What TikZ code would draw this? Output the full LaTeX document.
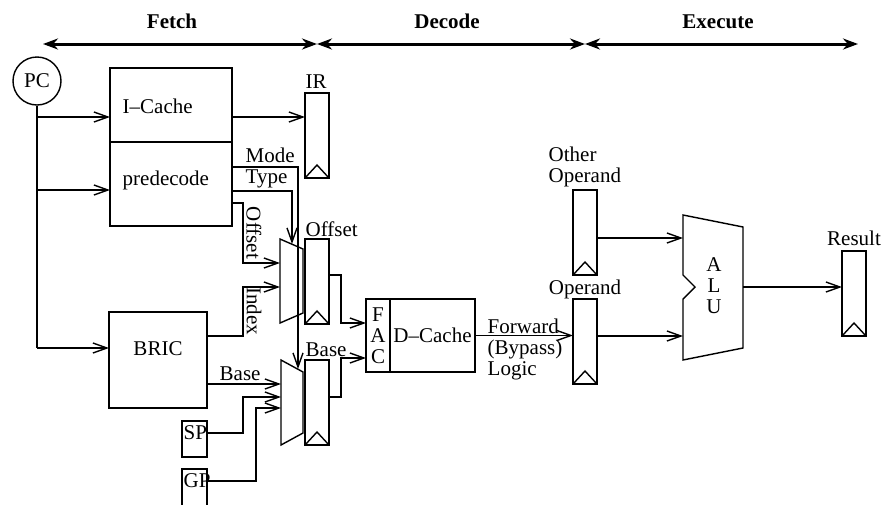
\documentclass[tikz,border=0pt]{standalone}
\usepackage{fontspec}
\setmainfont{Liberation Serif}
\usetikzlibrary{arrows.meta}

\tikzset{
  unit/.style={draw, rectangle, inner sep=0pt, outer sep=0pt, anchor=north west},
  reg/.style={unit, minimum width=24pt, minimum height=85pt,
    path picture={\draw (path picture bounding box.south west)
      -- ([yshift=13pt]path picture bounding box.south)
      -- (path picture bounding box.south east);}},
  wire/.style={-{Straight Barb[length=14pt,width=10pt]}},
  phase/.style={line width=3pt, {Stealth[length=15pt,width=11pt]}-{Stealth[length=15pt,width=11pt]}},
  lbl/.style={anchor=base west, inner sep=0pt},
}

\begin{document}
\begin{tikzpicture}[x=1pt, y=-1pt, line width=1.4pt, font=\fontsize{21}{21}\selectfont]
    \useasboundingbox (0,0) rectangle (883,504);

    % Pipeline stages along the top
    \coordinate (s0) at (43,44);
    \coordinate (s1) at (317,44);
    \coordinate (s2) at (585,44);
    \coordinate (s3) at (858,44);
    \draw[phase] (s0) -- (s1);
    \draw[phase] (s1) -- (s2);
    \draw[phase] (s2) -- (s3);
    \node[anchor=base] (fetch) at (172,28) {\bfseries Fetch};
    \node[anchor=base] (decode) at (447,28) {\bfseries Decode};
    \node[anchor=base] (execute) at (718,28) {\bfseries Execute};

    % Fetch units
    \node[draw, circle, minimum size=48pt, inner sep=0pt] (pc) at (37,81) {PC};
    \node[unit, minimum width=122pt, minimum height=74pt] (icache) at (110,68) {};
    \node[unit, minimum width=122pt, minimum height=84pt] (pred) at (110,142) {};
    \node[lbl] (icache-t) at (122,113) {I–Cache};
    \node[lbl] (pred-t) at (122,185) {predecode};
    \node[unit, minimum width=98pt, minimum height=96pt] (bric) at (109,312) {};
    \node (bric-t) at ([yshift=11pt]bric.center) {BRIC};
    \node[unit, minimum width=25pt, minimum height=36pt] (sp) at (182,421) {};
    \node[unit, minimum width=25pt, minimum height=40pt] (gp) at (182,469) {};
    \node[lbl] (sp-t) at (183,439) {SP};
    \node[lbl] (gp-t) at (183,487) {GP};

    % Registers
    \node[reg] (ir) at (305,93) {};
    \node[reg] (oreg) at (305,239) {};
    \node[reg] (breg) at (305,360) {};
    \node[reg] (other) at (573,190) {};
    \node[reg] (opnd) at (573,299) {};
    \node[reg] (res) at (842,251) {};
    \node[lbl] (ir-l) at ([yshift=5pt]ir.north west) {IR};
    \node[lbl] (oreg-l) at ([yshift=3pt]oreg.north west) {Offset};
    \node[lbl] (breg-l) at ([yshift=4pt]breg.north west) {Base};
    \node[lbl] (other-l1) at (548,161) {Other};
    \node[lbl] (other-l2) at (548,182) {Operand};
    \node[anchor=base, inner sep=0pt] (opnd-l) at ([yshift=5pt]opnd.north) {Operand};
    \node[anchor=base, inner sep=0pt] (res-l) at ([yshift=6pt]res.north) {Result};

    % Muxes
    \coordinate (omux) at (280,239);
    \draw (omux) -- ++(23,10) -- ++(0,64) -- ++(-23,10) -- cycle;
    \coordinate (bmux) at (281,360);
    \draw (bmux) -- ++(22,12) -- ++(0,61) -- ++(-22,12) -- cycle;

    % Address calculation and data cache
    \node[unit, minimum width=24pt, minimum height=73pt, align=center] (fac) at (366,299) {F\\A\\C};
    \node[unit, minimum width=85pt, minimum height=73pt] (dcache) at (390,299) {D–Cache};

    % ALU
    \coordinate (alu) at (683,215);
    \coordinate (alu-out) at (743,287);
    \draw (alu) -- ++(60,12) -- ++(0,121) -- ++(-60,12) -- ++(0,-61)
      -- ++(12,-12) -- ++(-12,-12) -- cycle;
    \node[align=center] (alu-t) at (714,286) {A\\L\\U};

    % PC fan-out
    \draw (pc.south) -- (pc.south |- 0,348);
    \draw[wire] (pc.south |- 0,117) -- (icache.west |- 0,117);
    \draw[wire] (pc.south |- 0,190) -- (pred.west |- 0,190);
    \draw[wire] (pc.south |- 0,348) -- (bric.west |- 0,348);
    \draw[wire] (icache.east |- 0,117) -- (ir.west |- 0,117);

    % predecode outputs
    \draw[wire] (pred.east |- 0,167) -| (298,369);
    \draw[wire] (pred.east |- 0,191) -| (292,244);
    \draw[wire] (pred.east |- 0,203) -| (243,263) -- (omux |- 0,263);
    \node[lbl] (mode-t) at (245,162) {Mode};
    \node[lbl] (type-t) at (245,183) {Type};
    \node[rotate=-90, inner sep=0pt] (off-t) at (254,233) {Offset};

    % BRIC, SP and GP outputs
    \draw[wire] (bric.east |- 0,336) -| (243,287) -- (omux |- 0,287);
    \node[rotate=-90, inner sep=0pt] (idx-t) at (254,311) {Index};
    \draw[wire] (bric.east |- 0,384) -- (bmux |- 0,384);
    \node[lbl] (base-t) at (219,380) {Base};
    \draw[wire] (sp.east |- 0,433) -| (243,397) -- (bmux |- 0,397);
    \draw[wire] (gp.east |- 0,481) -| (256,408) -- (bmux |- 0,408);

    % Decode to execute
    \draw[wire] (oreg.east |- 0,275) -| (341,323) -- (fac.west |- 0,323);
    \draw[wire] (breg.east |- 0,397) -| (341,358) -- (fac.west |- 0,358);
    \draw[wire] (dcache.east) -- (opnd.west |- dcache.east);
    \node[anchor=north west, align=left, inner sep=0pt] (fwd-t) at (487,318) {Forward\\(Bypass)\\Logic};
    \draw[wire] (other.east |- 0,238) -- (alu |- 0,238);
    \draw[wire] (opnd.east |- 0,336) -- (alu |- 0,336);
    \draw[wire] (alu-out) -- (res.west |- alu-out);

\end{tikzpicture}
\end{document}
